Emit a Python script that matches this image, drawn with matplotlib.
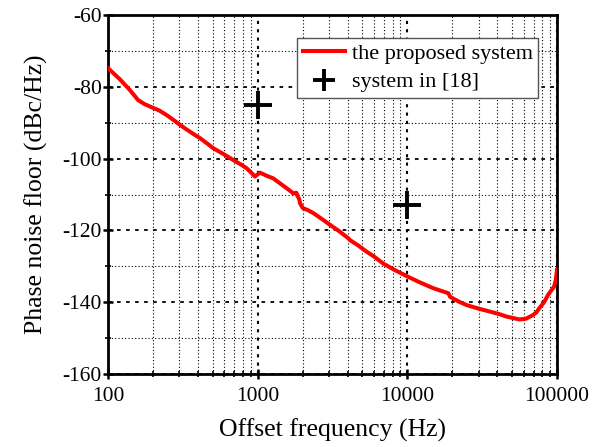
import matplotlib
matplotlib.use("Agg")
import matplotlib.pyplot as plt
from matplotlib.ticker import LogLocator, MultipleLocator, FixedFormatter, FixedLocator

plt.rcParams['font.family'] = ['Liberation Serif', 'DejaVu Serif']
plt.rcParams['axes.unicode_minus'] = False

freq_hz = [100, 120, 140, 159, 175, 191, 220, 247, 275, 303, 330, 353, 380, 412,
           460, 505, 600, 687, 770, 845, 900, 960, 1000, 1034, 1150, 1270,
           1400, 1568, 1650, 1732, 1812, 1860, 1902, 1917, 2003, 2150, 2361,
           2700, 3056, 3500, 4036, 4137, 4700, 5330, 6000, 6880, 8200, 10090,
           12000, 14900, 17000, 18800, 19300, 22000, 24900, 30000, 35500,
           41000, 46000, 52000, 56000, 62000, 69000, 73000, 76000, 82000,
           87000, 92000, 95500, 98000, 100000]
noise_dbc = [-74.8, -77.9, -80.9, -83.7, -84.8, -85.5, -86.6, -87.9, -89.3,
             -90.6, -91.7, -92.5, -93.4, -94.3, -95.8, -97.1, -98.9, -100.4,
             -101.6, -102.7, -103.8, -105.0, -104.4, -103.9, -104.8, -105.5,
             -106.8, -108.3, -109.0, -109.7, -109.5, -110.6, -111.5, -112.4,
             -113.8, -114.3, -115.2, -116.9, -118.5, -120.2, -122.2, -122.7,
             -124.2, -125.9, -127.3, -129.2, -131.0, -132.9, -134.4, -136.1,
             -136.9, -137.5, -138.5, -139.8, -140.8, -141.8, -142.6, -143.3,
             -144.0, -144.5, -144.8, -144.6, -143.6, -142.8, -141.7, -140.0,
             -138.0, -136.6, -135.7, -134.0, -131.0]

ref_freq = [1000, 10000]
ref_noise = [-85, -113]

xticks = [100, 1000, 10000, 100000]
xtick_labels = ['100', '1000', '10000', '100000']
yticks = [-160, -140, -120, -100, -80, -60]

fig = plt.figure(figsize=(6.0, 4.47), dpi=100)
ax = fig.add_axes([108 / 600, 1 - 374 / 447, 449 / 600, 359 / 447])

ax.set_xscale('log')
ax.set_xlim(100, 100000)
ax.set_ylim(-160, -60)

# grid: major x dotted thicker, major y dashed, minor dotted thin
ax.xaxis.set_major_locator(FixedLocator(xticks))
ax.xaxis.set_major_formatter(FixedFormatter(xtick_labels))
ax.xaxis.set_minor_locator(LogLocator(base=10, subs=range(2, 10)))
ax.yaxis.set_major_locator(FixedLocator(yticks))
ax.yaxis.set_minor_locator(MultipleLocator(10))

ax.grid(True, axis='x', which='major', color='black', linestyle=(0, (1.5, 2.5)), linewidth=1.5)
ax.grid(True, axis='x', which='minor', color='black', linestyle=(0, (1, 2)), linewidth=0.8)
ax.grid(True, axis='y', which='major', color='black', linestyle=(0, (2, 3)), linewidth=1.3)
ax.grid(True, axis='y', which='minor', color='black', linestyle=(0, (1, 2)), linewidth=0.8)

ax.plot(freq_hz, noise_dbc, color='#ff0000', linewidth=2.9, label='the proposed system', zorder=3)
ax.plot(ref_freq, ref_noise, linestyle='none', marker='+', markersize=20,
        markeredgewidth=2.8, color='black', label='system in [18]', zorder=4)

for side in ['left', 'bottom', 'top', 'right']:
    ax.spines[side].set_linewidth(2.0)

ax.tick_params(axis='both', which='major', direction='inout', length=7, width=1.8,
               labelsize=15.5, top=False, right=False)
ax.tick_params(axis='both', which='minor', direction='inout', length=4, width=1.2,
               top=False, right=False)
ax.tick_params(axis='y', which='major', pad=1)
ax.tick_params(axis='x', which='major', pad=6)

ax.set_xlabel('Offset frequency (Hz)', fontsize=18.5, labelpad=9)
ax.set_ylabel('Phase noise floor (dBc/Hz)', fontsize=18.5, labelpad=10)

leg = ax.legend(loc='upper right', bbox_to_anchor=(0.958, 0.936), fontsize=16,
                frameon=True, fancybox=False, edgecolor='#555555', framealpha=1,
                borderpad=0.25, handlelength=1.9, handletextpad=0.3, labelspacing=0.35,
                borderaxespad=0.0, markerscale=0.8)
leg.get_frame().set_linewidth(1.0)

fig.savefig('out.png', dpi=100)
